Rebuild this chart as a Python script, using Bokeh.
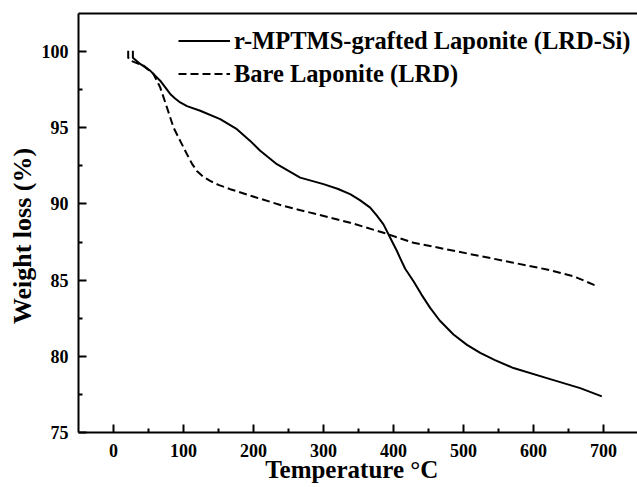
from bokeh.plotting import figure
from bokeh.models import LinearAxis, FixedTicker, Legend, LegendItem, Range1d
from bokeh.embed import file_html
from bokeh.resources import INLINE

# TGA curves: temperature (°C) vs remaining weight (%)
temp_si = [27.7, 27.7, 38.1, 52.4, 66.7, 81.0, 88.0, 95.3, 105.0, 123.9, 152.4, 176.3,
           195.3, 209.6, 233.4, 266.7, 300.0, 320.0, 338.1, 352.0, 366.7, 376.0,
           385.7, 395.3, 404.9, 410.0, 416.7, 428.6, 440.0, 452.4, 466.0, 485.7,
           505.0, 523.9, 545.0, 571.4, 619.1, 666.7, 697.7]
weight_si = [100.05, 99.6, 99.19, 98.75, 98.09, 97.22, 96.92, 96.66, 96.42, 96.12, 95.57, 94.91,
             94.14, 93.49, 92.61, 91.73, 91.30, 91.0, 90.64, 90.25, 89.76, 89.25,
             88.66, 87.78, 86.91, 86.4, 85.75, 84.93, 84.05, 83.18, 82.35, 81.43,
             80.75, 80.22, 79.75, 79.23, 78.57, 77.91, 77.37]

temp_bare = [21.0, 21.0, 24.0, 42.9, 57.1, 66.7, 76.3, 85.7, 95.3, 104.9, 112.0, 119.1,
             128.0, 138.1, 150.0, 166.7, 204.9, 242.9, 290.6, 338.1, 385.7, 428.6, 476.3,
             523.9, 571.4, 619.1, 657.1, 690.6]
weight_bare = [100.05, 99.6, 99.41, 99.08, 98.53, 97.65, 96.34, 95.02, 94.14, 93.27, 92.65, 92.17,
               91.8, 91.51, 91.25, 90.97, 90.41, 89.87, 89.32, 88.77, 88.11, 87.45, 87.02,
               86.58, 86.14, 85.70, 85.26, 84.61]

x_ticks = [0, 100, 200, 300, 400, 500, 600, 700]
x_minor = [50, 150, 250, 350, 450, 550, 650]
y_ticks = [75, 80, 85, 90, 95, 100]
y_minor = [77.5, 82.5, 87.5, 92.5, 97.5]

label_si = "r-MPTMS-grafted Laponite (LRD-Si)"
label_bare = "Bare Laponite (LRD)"
# trailing no-break spaces nudge the centred axis titles off the frame centre
x_title = "Temperature °C" + "\u00a0" * 2
y_title = "Weight loss (%)" + "\u00a0" * 4

FONT = "Liberation Serif"

p = figure(width=637, height=487, output_backend="svg", toolbar_location=None,
           x_range=Range1d(-50, 748.6), y_range=Range1d(75, 102.5),
           min_border_left=78, min_border_top=13, min_border_bottom=55,
           min_border_right=0, x_axis_label=x_title, y_axis_label=y_title)
p.outline_line_color = None
p.grid.visible = False
p.background_fill_color = "white"
p.border_fill_color = "white"

r_si = p.line(temp_si, weight_si, line_color="black", line_width=2,
              line_join="round")
r_bare = p.line(temp_bare, weight_bare, line_color="black", line_width=2,
                line_dash="8 4", line_join="round")

for ax, ticks, minor in ((p.xaxis[0], x_ticks, x_minor), (p.yaxis[0], y_ticks, y_minor)):
    ax.ticker = FixedTicker(ticks=ticks, minor_ticks=minor)
    ax.axis_line_width = 2
    ax.axis_line_color = "black"
    ax.major_tick_in = 8
    ax.major_tick_out = 0
    ax.minor_tick_in = 4
    ax.minor_tick_out = 0
    ax.major_tick_line_width = 2
    ax.minor_tick_line_width = 2
    ax.major_label_text_font = FONT
    ax.major_label_text_font_style = "bold"
    ax.major_label_text_font_size = "18px"
    ax.major_label_text_color = "black"
    ax.axis_label_text_font = FONT
    ax.axis_label_text_font_style = "bold"
    ax.axis_label_text_font_size = "25px"
    ax.axis_label_text_color = "black"

p.yaxis[0].axis_label_text_font_size = "26px"
p.xaxis[0].major_label_standoff = 11
p.xaxis[0].axis_label_standoff = -4
p.yaxis[0].major_label_standoff = 10
p.yaxis[0].axis_label_standoff = 2

# top frame edge
top = LinearAxis(ticker=FixedTicker(ticks=[]), axis_line_width=2,
                 major_tick_out=0, major_tick_in=0, minor_tick_out=0, minor_tick_in=0,
                 major_label_text_font_size="0px")
p.add_layout(top, "above")

legend = Legend(items=[LegendItem(label=label_si, renderers=[r_si]),
                       LegendItem(label=label_bare, renderers=[r_bare])],
                location=(100, 342), padding=0, margin=0, spacing=0,
                glyph_width=52, glyph_height=33, label_height=33,
                label_standoff=4, border_line_color=None,
                background_fill_alpha=0,
                label_text_font=FONT, label_text_font_style="bold",
                label_text_font_size="24.5px", label_text_color="black")
p.add_layout(legend, "center")

open("out.html", "w").write(file_html(p, INLINE))
